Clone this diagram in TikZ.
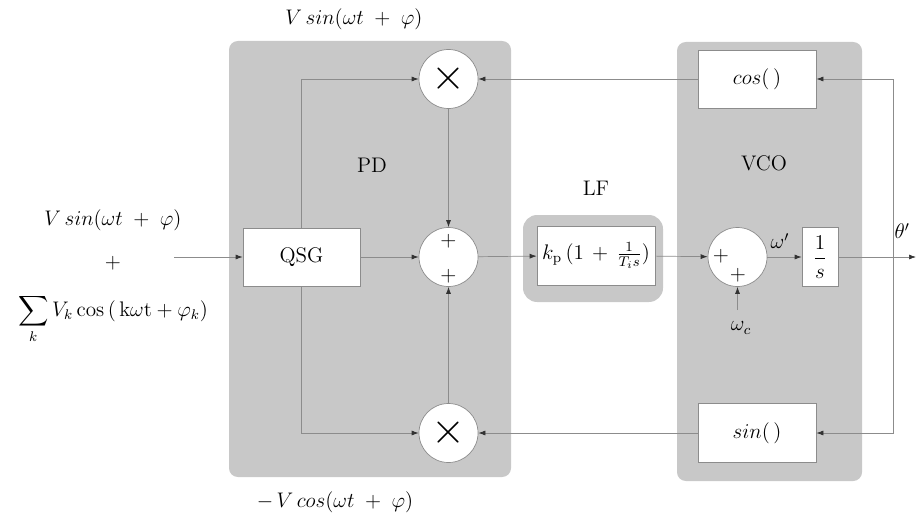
\documentclass[tikz,border=0pt]{standalone}
\usepackage{amsmath,amssymb}
\usepackage{tikz}
\usetikzlibrary{arrows.meta}
\definecolor{panelgray}{RGB}{200,200,200}
\definecolor{linegray}{RGB}{140,140,140}
\newcommand{\phasearg}{(\omega t\;+\;\varphi)}

\begin{document}
\begin{tikzpicture}[font=\large]
	\tikzstyle{block}=[rectangle,draw=linegray,fill=white,inner sep=0pt]
	\tikzstyle{junction}=[circle,draw=linegray,fill=white,inner sep=0pt, minimum size=1.18cm]
	\tikzstyle{sig}=[draw=linegray,-{Latex[length=1.4mm,width=1mm,color=black!80]}]
	\useasboundingbox (0,0) rectangle (18.34,10.24);
	
	% grey panels
	\fill[panelgray,rounded corners=5pt] (4.58,0.70) rectangle (10.22,9.42);
	\fill[panelgray,rounded corners=5pt] (13.54,0.62) rectangle (17.24,9.40);
	\fill[panelgray,rounded corners=8pt] (10.46,4.20) rectangle (13.26,5.94);
	
	\node at (7.44,6.94) (pd) {PD};
	\node at (11.92,6.48) (lftitle) {LF};
	\node at (15.28,6.98) (vco) {VCO};
	
	% phase detector
	\node[block,minimum width=2.34cm,minimum height=1.16cm] at (6.03,5.10) (qsg) {QSG};
	\node[junction] at (8.97,8.66) (mul1) {\Huge$\times$};
	\node[junction] at (8.97,5.10) (sumpd) {};
	\node[junction] at (8.97,1.58) (mul2) {\Huge$\times$};
	\node at (8.97,5.42) {$+$};
	\node at (8.97,4.72) {$+$};
	
	% loop filter
	\node[block,minimum width=2.36cm,minimum height=1.18cm,font=\normalsize] at (11.92,5.13) (lf) {\large$k_{\mathrm{p}}\,(1\,+\,\frac{1}{T_i s})$};
	
	% oscillator
	\node[junction] at (14.75,5.10) (sumvco) {};
	\node at (14.42,5.12) {$+$};
	\node at (14.76,4.74) {$+$};
	\node[block,minimum width=0.72cm,minimum height=1.18cm] at (16.40,5.10) (integ) {$\dfrac{1}{s}$};
	\node[block,minimum width=2.36cm,minimum height=1.16cm] at (15.14,8.66) (cosb) {$cos(\,)$};
	\node[block,minimum width=2.36cm,minimum height=1.18cm] at (15.14,1.58) (sinb) {$sin(\,)$};
	
	\coordinate (in) at (3.48,5.10);
	\coordinate (out) at (18.32,5.10);
	\coordinate (fb) at (17.86,5.10);
	\coordinate (wcin) at (14.75,4.04);
	
	% signal flow
	\draw[sig] (in) -- (qsg);
	\draw[sig] (qsg) -- (sumpd);
	\draw[sig] (qsg.north) |- (mul1);
	\draw[sig] (qsg.south) |- (mul2);
	\draw[sig] (mul1) -- (sumpd);
	\draw[sig] (mul2) -- (sumpd);
	\draw[sig] (sumpd) -- (lf);
	\draw[sig] (lf) -- (sumvco);
	\draw[sig] (wcin) -- (sumvco);
	\draw[sig] (sumvco) -- (integ);
	\draw[sig] (integ) -- (out);
	\draw[sig] (fb) |- (cosb);
	\draw[sig] (fb) |- (sinb);
	\draw[sig] (cosb) -- (mul1);
	\draw[sig] (sinb) -- (mul2);
	
	% signal labels
	\node at (7.08,9.86) (vtop) {$V\,sin\phasearg$};
	\node at (6.70,0.20) (vbot) {$-\,V\,cos\phasearg$};
	\node at (2.26,5.84) (vin) {$V\,sin\phasearg$};
	\node at (2.26,4.98) (plus) {$+$};
	\node at (2.26,3.86) (harm) {$\displaystyle\sum_{k} V_k\cos\,(\,\mathrm{k}\omega\mathrm{t}+\varphi_k)$};
	\node at (14.82,3.68) (wc) {$\omega_c$};
	\node at (15.60,5.42) (wp) {$\omega'$};
	\node[anchor=east] at (18.32,5.62) (theta) {$\theta'$};
\end{tikzpicture}
\end{document}
